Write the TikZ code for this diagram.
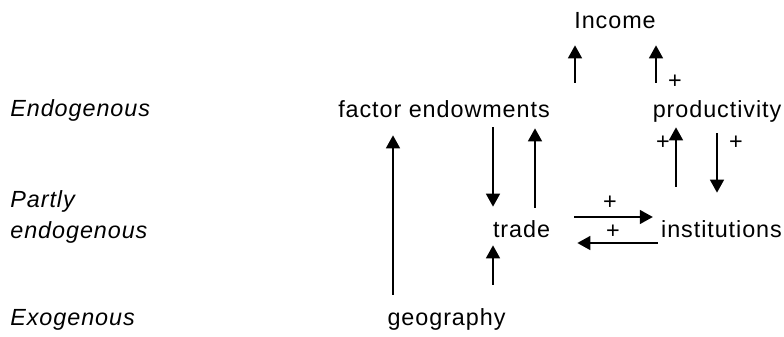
\documentclass[tikz,border=0pt]{standalone}
\usepackage{fontspec}
\setmainfont{Liberation Sans}[LetterSpace=4]
\usepackage{tikz}
\usetikzlibrary{positioning,calc,arrows.meta}

\begin{document}
\begin{tikzpicture}[
    var/.style={inner sep=0pt, anchor=base, text height=0.34cm, text depth=0.1cm,
                font=\fontsize{13.3}{17.6}\selectfont},
    level label/.style={inner sep=0pt, anchor=base west, align=left,
                font=\fontsize{13.3}{17.6}\selectfont\itshape},
    sign/.style={inner sep=0pt, font=\fontsize{13.3}{17.6}\selectfont},
    link/.style={-{Triangle[length=0.26cm, width=0.28cm]}, line width=0.9pt}
]
\useasboundingbox (0,0) rectangle (15.68,6.72);

% Level labels on the left
\node[level label] (Endo) at (0.2,4.40) {Endogenous};
\node[level label] (Partly) at (0.2,1.96) {Partly\\endogenous};
\node[level label] (Exo) at (0.2,0.22) {Exogenous};

% Variables
\node[var] (Inc) at (12.30,6.16) {Income};
\node[var] (FE) at (8.88,4.38) {factor endowments};
\node[var] (Prod) at (14.34,4.38) {productivity};
\node[var] (Trade) at (10.43,1.98) {trade};
\node[var] (Inst) at (14.43,1.98) {institutions};
\node[var] (Geo) at (8.93,0.22) {geography};

% Columns and rows used by the links
\coordinate (cGeoFE) at (7.86,0);
\coordinate (cDown) at (9.86,0);
\coordinate (cUp) at (10.70,0);
\coordinate (cFEInc) at (11.50,0);
\coordinate (cProdInc) at (13.12,0);
\coordinate (cInstProd) at (13.52,0);
\coordinate (cProdInst) at (14.34,0);
\coordinate (rTo) at (0,2.38);
\coordinate (rBack) at (0,1.86);

% Geography drives endowments and trade
\draw[link, shorten <=0.26cm, shorten >=0.26cm] (Geo.north -| cGeoFE) -- (FE.south -| cGeoFE);
\draw[link, shorten <=0.46cm, shorten >=0.06cm] (Geo.north -| cDown) -- (Trade.south -| cDown);

% Endowments and trade
\draw[link, shorten <=0.10cm, shorten >=0.26cm] (FE.south -| cDown) -- (Trade.north -| cDown);
\draw[link, shorten <=0.24cm, shorten >=0.12cm] (Trade.north -| cUp) -- (FE.south -| cUp);

% Into income
\draw[link, shorten <=0.34cm, shorten >=0.24cm] (FE.north -| cFEInc) -- (Inc.south -| cFEInc);
\draw[link, shorten <=0.34cm, shorten >=0.24cm] (Prod.north -| cProdInc) -- (Inc.south -| cProdInc);
\node[sign] (s1) at (13.50,5.08) {+};

% Institutions and productivity
\draw[link, shorten <=0.66cm, shorten >=0.10cm] (Inst.north -| cInstProd) -- (Prod.south -| cInstProd);
\draw[link, shorten <=0.22cm, shorten >=0.54cm] (Prod.south -| cProdInst) -- (Inst.north -| cProdInst);
\node[sign] (s2) at (13.26,3.86) {+};
\node[sign] (s3) at (14.72,3.86) {+};

% Trade and institutions
\draw[link, shorten <=0.48cm, shorten >=0.16cm] (Trade.east |- rTo) -- (Inst.west |- rTo);
\draw[link, shorten <=0.06cm, shorten >=0.54cm] (Inst.west |- rBack) -- (Trade.east |- rBack);
\node[sign] (s4) at (12.20,2.66) {+};
\node[sign] (s5) at (12.26,2.08) {+};

\end{tikzpicture}
\end{document}
